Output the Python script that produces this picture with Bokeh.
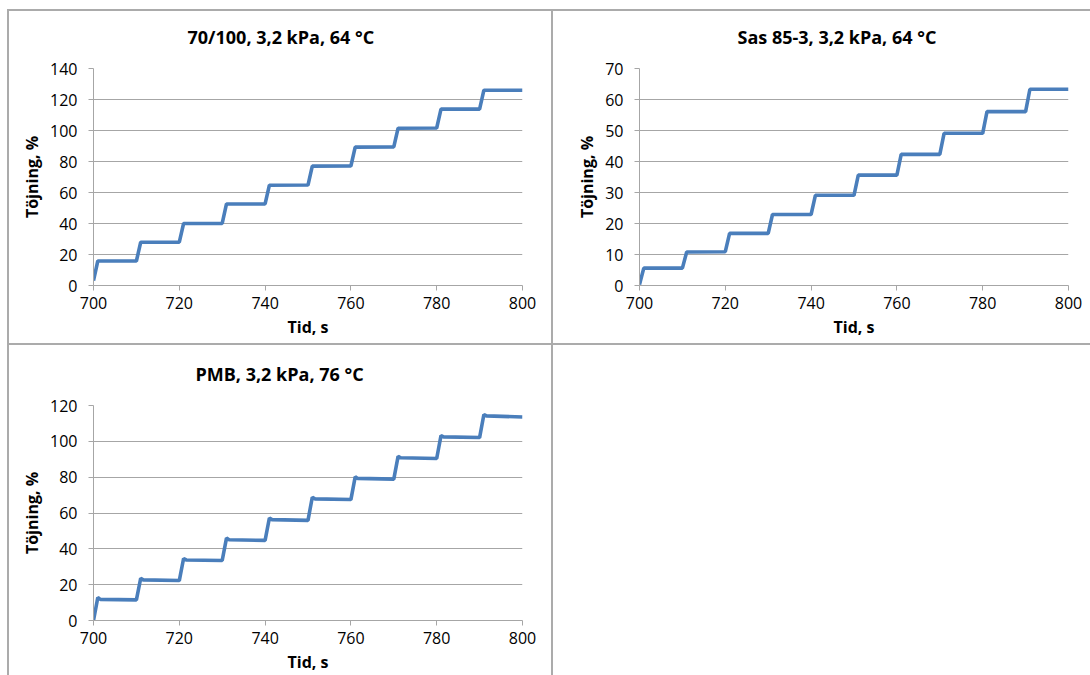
from bokeh.plotting import figure
from bokeh.layouts import row, column
from bokeh.models import Range1d, FixedTicker, Title, LinearAxis
from bokeh.embed import file_html
from bokeh.resources import INLINE

# ---------------- data ----------------
x_ticks = [700, 720, 740, 760, 780, 800]

title_1 = "70/100, 3,2 kPa, 64 °C"
t_1 = [700, 701, 710, 711, 720, 721, 730, 731, 740, 741, 750, 751, 760, 761, 770, 771, 780, 781, 790, 791, 800]
strain_1 = [3.2, 15.8, 15.8, 27.9, 28.0, 40.0, 40.1, 52.6, 52.6, 64.7, 64.8, 77.0, 77.1, 89.3, 89.4,
            101.5, 101.6, 113.8, 113.8, 126.0, 126.0]
y_ticks_1 = [0, 20, 40, 60, 80, 100, 120, 140]

title_2 = "Sas 85-3, 3,2 kPa, 64 °C"
t_2 = [700, 701, 710, 711, 720, 721, 730, 731, 740, 741, 750, 751, 760, 761, 770, 771, 780, 781, 790, 791, 800]
strain_2 = [0.3, 5.6, 5.6, 10.8, 10.9, 16.8, 16.8, 22.9, 22.9, 29.1, 29.1, 35.6, 35.6, 42.3, 42.3,
            49.1, 49.1, 56.1, 56.1, 63.3, 63.3]
y_ticks_2 = [0, 10, 20, 30, 40, 50, 60, 70]

title_3 = "PMB, 3,2 kPa, 76 °C"
t_3 = [700, 701, 701.6, 710, 711, 711.6, 720, 721, 721.6, 730, 731, 731.6, 740, 741, 741.6, 750,
       751, 751.6, 760, 761, 761.6, 770, 771, 771.6, 780, 781, 781.6, 790, 791, 791.6, 800]
strain_3 = [0.0, 12.8, 11.8, 11.5, 23.5, 22.7, 22.3, 34.6, 33.8, 33.5, 46.0, 45.1, 44.7, 57.2, 56.3, 55.9,
            68.8, 67.9, 67.5, 80.2, 79.3, 78.9, 91.6, 90.8, 90.4, 103.2, 102.5, 102.1, 115.0, 114.2, 113.6]
y_ticks_3 = [0, 20, 40, 60, 80, 100, 120]

x_label = "Tid, s"
y_label = "Töjning, %"

FONT = "Open Sans"
LINE = "#4A7EBB"
GRID = "#a6a6a6"
BC = "2px solid #ababab"


def make_panel(title, t, y, yticks, width, height, left, right, top, bottom,
               title_offset, title_gap, borders):
    p = figure(width=width, height=height, output_backend="svg", toolbar_location=None,
               x_range=Range1d(700, 800), y_range=Range1d(yticks[0], yticks[-1]),
               min_border_left=left, min_border_right=right,
               min_border_top=top, min_border_bottom=bottom)
    p.outline_line_color = None
    p.background_fill_color = "white"
    p.border_fill_color = "white"
    p.line(t, y, line_color=LINE, line_width=3.6)

    p.xaxis.ticker = FixedTicker(ticks=x_ticks)
    p.yaxis.ticker = FixedTicker(ticks=yticks)
    p.xgrid.grid_line_color = None
    p.ygrid.grid_line_color = GRID
    p.ygrid.grid_line_width = 1.2
    for ax in (p.xaxis[0], p.yaxis[0]):
        ax.axis_line_color = GRID
        ax.major_tick_line_color = GRID
        ax.minor_tick_line_color = None
        ax.major_tick_in = 0
        ax.major_tick_out = 5
        ax.major_label_text_font = FONT
        ax.major_label_text_font_size = "16px"
        ax.major_label_text_color = "black"
        ax.axis_label_text_font = FONT
        ax.axis_label_text_font_size = "16px"
        ax.axis_label_text_font_style = "bold"
        ax.axis_label_text_color = "black"
    p.xaxis.axis_label = x_label
    p.yaxis.axis_label = y_label
    p.xaxis.major_label_standoff = 6
    p.xaxis.axis_label_standoff = 4
    p.yaxis.major_label_standoff = 11
    p.yaxis.axis_label_standoff = 4

    # invisible spacer between the plot area and the chart title
    gap = LinearAxis(ticker=FixedTicker(ticks=[x_ticks[2]]), axis_line_color=None,
                     major_tick_line_color=None, minor_tick_line_color=None,
                     major_tick_in=0, major_tick_out=title_gap, major_label_standoff=0,
                     major_label_overrides={x_ticks[2]: ""})
    p.add_layout(gap, "above")
    p.add_layout(Title(text=title, align="left", offset=title_offset, vertical_align="bottom",
                       standoff=0, text_font=FONT, text_font_size="18px",
                       text_font_style="bold", text_color="black"), "above")
    st = {"box-sizing": "content-box"}
    for side in ("top", "right", "bottom", "left"):
        st["border-" + side] = BC if side in borders else "none"
    p.styles = st
    return p


p1 = make_panel(title_1, t_1, strain_1, y_ticks_1, 542, 332, 84, 33, 57, 62, 94, 20,
                ("top", "right", "bottom", "left"))
p2 = make_panel(title_2, t_2, strain_2, y_ticks_2, 537, 332, 86, 22, 57, 62, 98, 20,
                ("top", "bottom"))
p3 = make_panel(title_3, t_3, strain_3, y_ticks_3, 542, 330, 84, 33, 60, 54, 102, 20,
                ("left", "right"))

layout = row(column(p1, p3), p2)
layout.margin = (9, 0, 0, 7)

open("out.html", "w").write(file_html(layout, INLINE))
